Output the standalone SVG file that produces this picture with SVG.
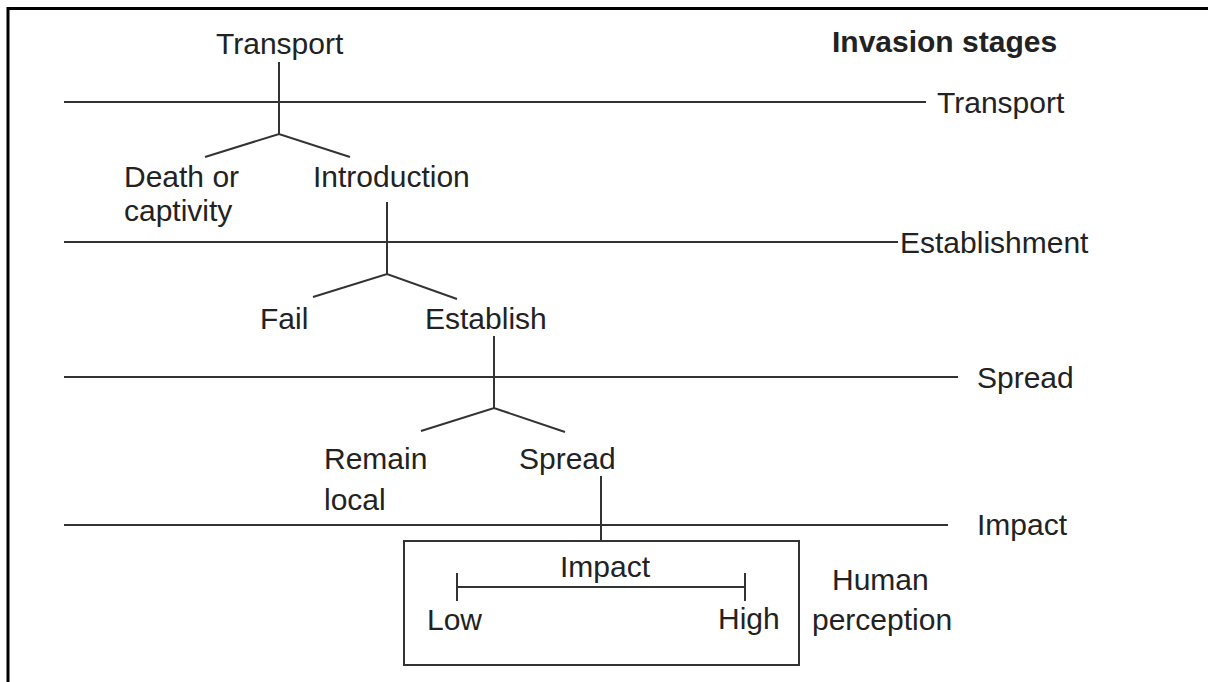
<svg xmlns="http://www.w3.org/2000/svg" width="1208" height="682" viewBox="0 0 1208 682">
<style>
text{font-family:"Liberation Sans",Arial,sans-serif;font-size:30px;fill:#222}
.b{font-weight:bold}
.ln{stroke:#333;stroke-width:2;fill:none}
.fr{stroke:#000;stroke-width:3;fill:none}
</style>
<rect width="1208" height="682" fill="#fff"/>
<path class="fr" d="M8,682 V8.5 H1208"/>
<g id="connectors">
<line class="ln" x1="64" y1="102" x2="926" y2="102"/>
<line class="ln" x1="64" y1="242" x2="898" y2="242"/>
<line class="ln" x1="64" y1="377" x2="958" y2="377"/>
<line class="ln" x1="64" y1="525" x2="948" y2="525"/>
<path class="ln" d="M279,62 V134 M205,157 L279,134 L350,157"/>
<path class="ln" d="M387,202 V274 M313,297 L387,274 L457,299"/>
<path class="ln" d="M494,336 V408 M421,431 L494,408 L565,432"/>
<path class="ln" d="M601,476 V541"/>
</g>
<g id="title"><text class="b" x="832" y="52">Invasion stages</text></g>
<g id="stage-labels">
<text x="937" y="113">Transport</text>
<text x="900" y="253">Establishment</text>
<text x="977" y="388">Spread</text>
<text x="977" y="535">Impact</text>
</g>
<g id="n-transport"><text x="216" y="54">Transport</text></g>
<g id="n-death"><text x="124" y="187">Death or</text><text x="124" y="221">captivity</text></g>
<g id="n-introduction"><text x="313" y="187">Introduction</text></g>
<g id="n-fail"><text x="260" y="329">Fail</text></g>
<g id="n-establish"><text x="425" y="329">Establish</text></g>
<g id="n-remain"><text x="324" y="469">Remain</text><text x="324" y="510">local</text></g>
<g id="n-spread"><text x="519" y="469">Spread</text></g>
<g id="n-impact">
<rect x="404" y="541" width="395" height="124" class="ln"/>
<text x="560" y="577">Impact</text>
<path class="ln" d="M457,587 H745 M457,573 V601 M745,573 V601"/>
<text x="427" y="630">Low</text>
<text x="718" y="629">High</text>
</g>
<g id="n-human"><text x="832" y="590">Human</text><text x="812" y="630">perception</text></g>
</svg>
